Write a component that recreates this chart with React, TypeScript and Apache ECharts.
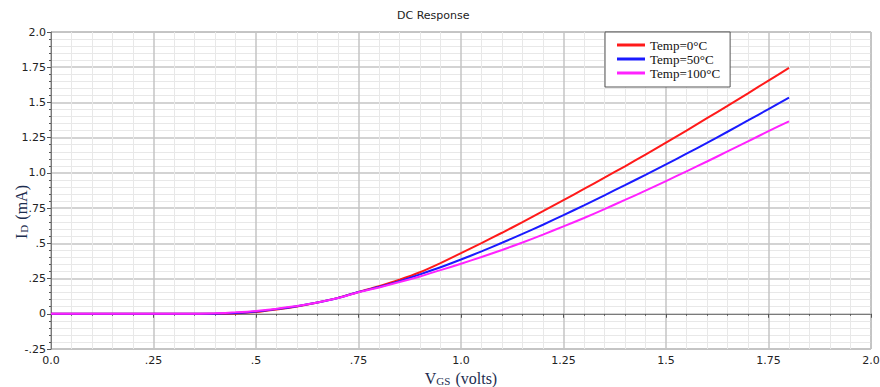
import React, { useEffect, useRef } from "react";
import * as echarts from "echarts";

const vgs = [0, 0.05, 0.1, 0.15, 0.2, 0.25, 0.3, 0.35, 0.4, 0.45, 0.5, 0.55, 0.6, 0.65, 0.7, 0.75, 0.8, 0.85, 0.9, 0.95, 1.0, 1.05, 1.1, 1.15, 1.2, 1.25, 1.3, 1.35, 1.4, 1.45, 1.5, 1.55, 1.6, 1.65, 1.7, 1.75, 1.8];
const id0C = [0, 0, 0, 0, 0, 0, 0, 0, 0, 0.002, 0.012, 0.03, 0.052, 0.08, 0.113, 0.155, 0.196, 0.242, 0.295, 0.36, 0.43, 0.502, 0.575, 0.65, 0.728, 0.807, 0.886, 0.966, 1.047, 1.13, 1.215, 1.3, 1.388, 1.476, 1.565, 1.655, 1.745];
const id50C = [0, 0, 0, 0, 0, 0, 0, 0, 0.001, 0.005, 0.016, 0.033, 0.054, 0.08, 0.112, 0.155, 0.19, 0.232, 0.28, 0.33, 0.385, 0.443, 0.504, 0.567, 0.632, 0.7, 0.77, 0.841, 0.913, 0.986, 1.06, 1.136, 1.213, 1.292, 1.372, 1.453, 1.535];
const id100C = [0, 0, 0, 0, 0, 0, 0, 0, 0.003, 0.01, 0.02, 0.036, 0.056, 0.08, 0.112, 0.153, 0.187, 0.225, 0.265, 0.31, 0.355, 0.403, 0.453, 0.506, 0.562, 0.62, 0.68, 0.743, 0.808, 0.874, 0.942, 1.011, 1.081, 1.152, 1.224, 1.296, 1.366];
const seriesNames = ["Temp=0°C", "Temp=50°C", "Temp=100°C"];
const xTickValues = [0, 0.25, 0.5, 0.75, 1.0, 1.25, 1.5, 1.75, 2.0];
const xTickLabels = ["0.0", ".25", ".5", ".75", "1.0", "1.25", "1.5", "1.75", "2.0"];
const yTickValues = [-0.25, 0, 0.25, 0.5, 0.75, 1.0, 1.25, 1.5, 1.75, 2.0];
const yTickLabels = ["-.25", "0", ".25", ".5", ".75", "1.0", "1.25", "1.5", "1.75", "2.0"];

const fmt = (vals: number[], labels: string[]) => (v: number) => {
  const i = vals.findIndex((t) => Math.abs(t - v) < 1e-6);
  return i >= 0 ? labels[i] : "";
};

export default function App() {
  const ref = useRef<HTMLDivElement>(null);
  useEffect(() => {
    if (!ref.current) return;
    const chart = echarts.init(ref.current, null, { renderer: "svg" });
    const mk = (ys: number[]) => vgs.map((x, i) => [x, ys[i]]);
    const nameColor = "#1c2d4f";
    const axisCommon = {
      axisLine: { show: true, lineStyle: { color: "#7a7a7a", width: 1 } },
      axisTick: { show: true, length: 4, lineStyle: { color: "#555" } },
      minorTick: { show: true, splitNumber: 5, length: 2, lineStyle: { color: "#555" } },
      splitLine: { show: true, lineStyle: { color: "#c4c4c4", width: 1.5 } },
      minorSplitLine: { show: true, lineStyle: { color: "#e8e8e8", width: 1 } },
    };
    chart.setOption({
      animation: false,
      backgroundColor: "#ffffff",
      title: {
        text: "DC Response",
        left: 392,
        top: 5,
        textStyle: { fontFamily: "DejaVu Sans", fontSize: 11, fontWeight: "normal", color: "#222" },
      },
      grid: {
        left: 51,
        right: 9,
        top: 32,
        bottom: 38,
        outerBoundsMode: "none",
        containLabel: false,
        show: true,
        borderColor: "#8a8a8a",
        borderWidth: 1,
        backgroundColor: "#fff",
      },
      legend: {
        orient: "vertical",
        left: 605,
        top: 32,
        padding: [6, 10, 7, 12],
        itemGap: 0,
        itemWidth: 28,
        itemHeight: 3,
        icon: "rect",
        backgroundColor: "#fff",
        borderColor: "#555",
        borderWidth: 1,
        textStyle: { fontFamily: "Liberation Serif", fontSize: 13, color: "#111", lineHeight: 14, padding: [0, 0, 0, 0] },
        data: seriesNames,
      },
      xAxis: {
        type: "value",
        min: 0,
        max: 2,
        interval: 0.25,
        ...axisCommon,
        axisLabel: {
          formatter: fmt(xTickValues, xTickLabels),
          fontFamily: "DejaVu Sans",
          fontSize: 11,
          color: "#222",
          margin: 6,
          showMaxLabel: true,
          showMinLabel: true,
        },
        name: "{v|V}{s|GS}{v| (volts)}",
        nameLocation: "middle",
        nameGap: 22,
        nameTextStyle: {
          rich: {
            v: { fontFamily: "Liberation Serif", fontSize: 16, color: nameColor, verticalAlign: "bottom", lineHeight: 15 },
            s: { fontFamily: "Liberation Serif", fontSize: 11, color: nameColor, verticalAlign: "bottom", lineHeight: 13, padding: [0, 1, 0, 0] },
          },
        },
      },
      yAxis: {
        type: "value",
        min: -0.25,
        max: 2,
        interval: 0.25,
        ...axisCommon,
        axisLabel: {
          formatter: fmt(yTickValues, yTickLabels),
          fontFamily: "DejaVu Sans",
          fontSize: 11,
          color: "#222",
          margin: 5,
          showMaxLabel: true,
          showMinLabel: true,
        },
      },
      graphic: [
        {
          type: "text",
          x: 20,
          y: 212,
          rotation: Math.PI / 2,
          style: {
            text: "{v|I}{s|D}{v| (mA)}",
            align: "center",
            verticalAlign: "middle",
            rich: {
              v: { fontFamily: "Liberation Serif", fontSize: 16, fill: nameColor, verticalAlign: "bottom", lineHeight: 18 },
              s: { fontFamily: "Liberation Serif", fontSize: 11, fill: nameColor, verticalAlign: "bottom", lineHeight: 14, padding: [0, 1, 0, 1] },
            },
          },
        },
      ],
      series: [
        { name: seriesNames[0], type: "line", data: mk(id0C), showSymbol: false, smooth: 0.2, color: "#ff1a1a", lineStyle: { width: 2, color: "#ff1a1a" } },
        { name: seriesNames[1], type: "line", data: mk(id50C), showSymbol: false, smooth: 0.2, color: "#1a1aff", lineStyle: { width: 2, color: "#1a1aff" } },
        { name: seriesNames[2], type: "line", data: mk(id100C), showSymbol: false, smooth: 0.2, color: "#ff22ff", lineStyle: { width: 2, color: "#ff22ff" } },
      ],
    });
    return () => chart.dispose();
  }, []);
  return <div ref={ref} style={{ width: 880, height: 387, position: "absolute", left: 0, top: 0 }} />;
}
